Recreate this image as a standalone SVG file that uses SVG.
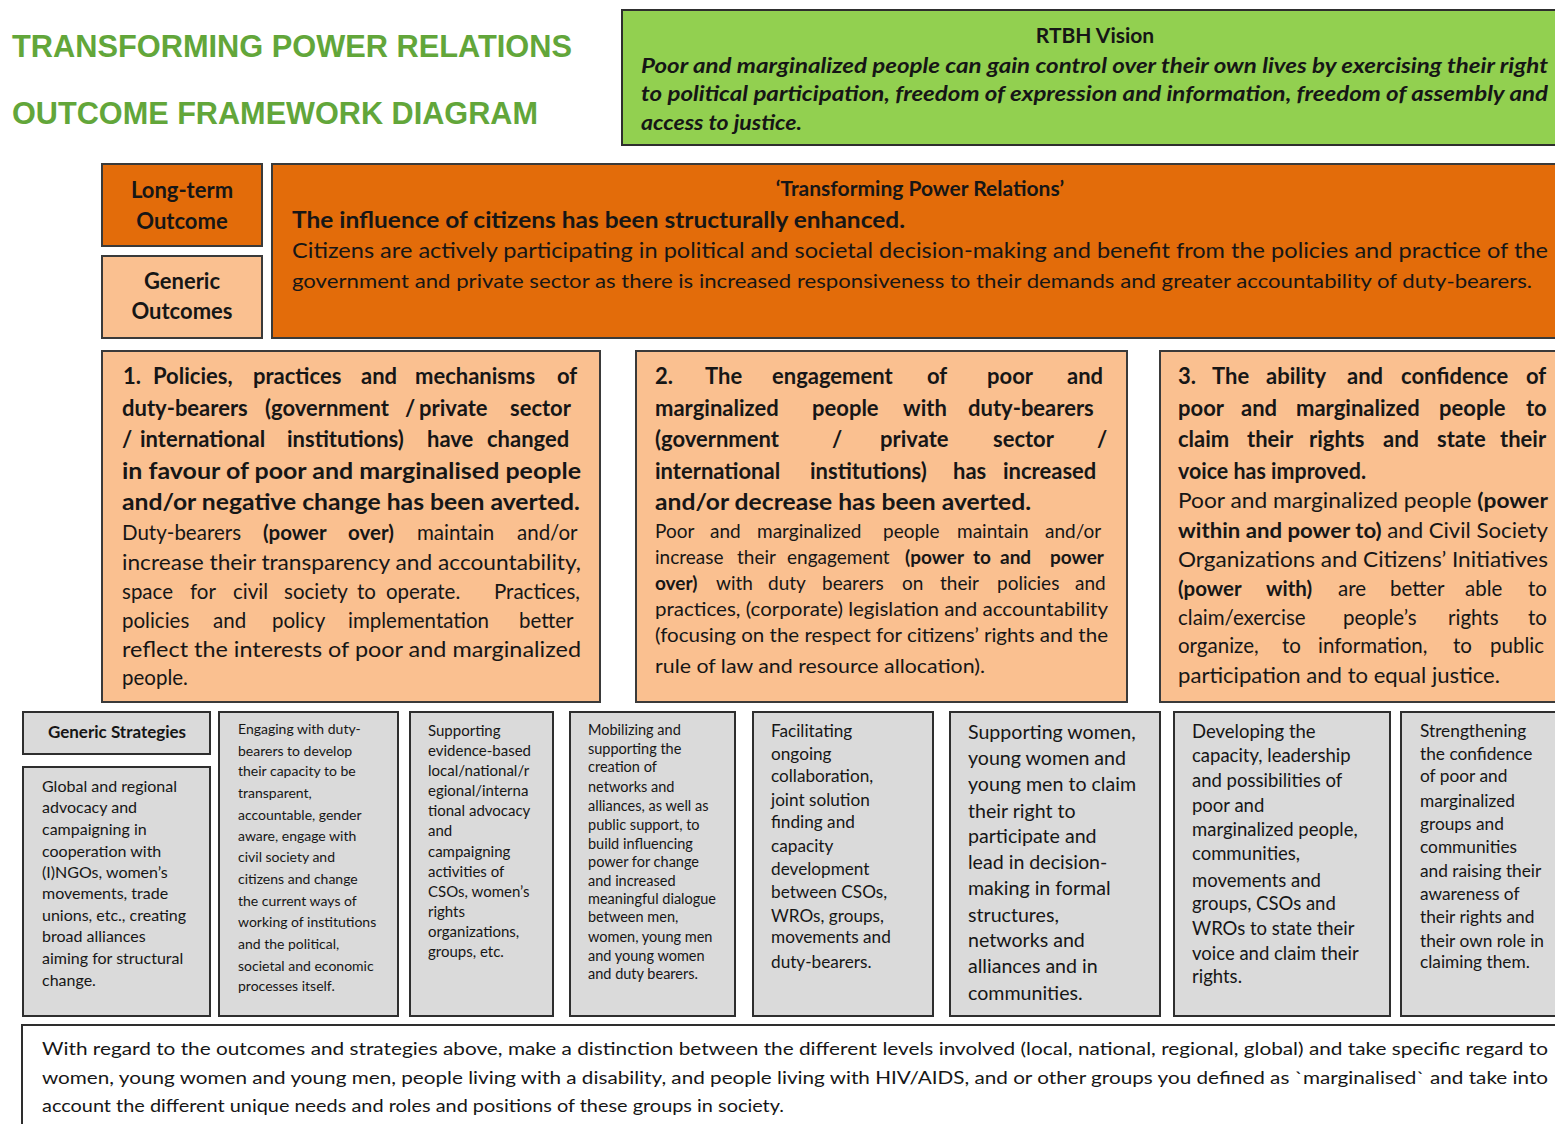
<svg xmlns="http://www.w3.org/2000/svg" width="1555" height="1124" viewBox="0 0 1555 1124">
  <style>
    .t { font-family: Lato, "Open Sans", "Liberation Sans", sans-serif; fill: #161616; }
    .b { font-weight: 700; }
    .i { font-style: italic; }
    .ttl { font-family: "Liberation Sans", Arial, sans-serif; font-weight: 700; font-size: 31px; fill: #62a63a; }
    .dark { fill: #e36c0a; stroke: #3a3a3a; stroke-width: 2; }
    .light { fill: #fac090; stroke: #3a3a3a; stroke-width: 2; }
    .green { fill: #92d050; stroke: #2e2e2e; stroke-width: 2; }
    .grey { fill: #dadada; stroke: #2e2e2e; stroke-width: 2; }
    .white { fill: #ffffff; stroke: #2e2e2e; stroke-width: 2; }
    .hb { font-size: 22px; font-weight: 700; }
    .n1 { font-size: 20.5px; }
    .n2 { font-size: 19px; }
  </style>

  <rect x="0" y="0" width="1555" height="1124" fill="#ffffff"/>

  <!-- heading -->
  <g id="title">
    <text class="ttl" x="12" y="57" textLength="560" lengthAdjust="spacingAndGlyphs">TRANSFORMING POWER RELATIONS</text>
    <text class="ttl" x="12" y="124" textLength="526" lengthAdjust="spacingAndGlyphs">OUTCOME FRAMEWORK DIAGRAM</text>
  </g>

  <!-- vision -->
  <g id="vision">
    <rect class="green" x="622" y="10" width="940" height="135"/>
    <text class="t b" x="1095" y="43" font-size="21" text-anchor="middle">RTBH Vision</text>
    <g class="t b i" font-size="20">
      <text x="641" y="73" textLength="907" lengthAdjust="spacingAndGlyphs">Poor and marginalized people can gain control over their own lives by exercising their right</text>
      <text x="641" y="101" textLength="907" lengthAdjust="spacingAndGlyphs">to political participation, freedom of expression and information, freedom of assembly and</text>
      <text x="641" y="130" textLength="161" lengthAdjust="spacingAndGlyphs">access to justice.</text>
    </g>
  </g>

  <!-- row labels -->
  <g id="label-longterm">
    <rect class="dark" x="102" y="164" width="160" height="82"/>
    <text class="t b" x="182" y="198" font-size="22" text-anchor="middle">Long-term</text>
    <text class="t b" x="182" y="229" font-size="22" text-anchor="middle">Outcome</text>
  </g>
  <g id="label-generic">
    <rect class="light" x="102" y="256" width="160" height="82"/>
    <text class="t b" x="182" y="289" font-size="22" text-anchor="middle">Generic</text>
    <text class="t b" x="182" y="319" font-size="22" text-anchor="middle">Outcomes</text>
  </g>

  <!-- long-term outcome -->
  <g id="longterm-outcome">
    <rect class="dark" x="272" y="164" width="1290" height="174"/>
    <text class="t b" x="920" y="196" font-size="21" text-anchor="middle">‘Transforming Power Relations’</text>
    <text class="t b" x="292" y="228" font-size="22" textLength="613" lengthAdjust="spacingAndGlyphs">The influence of citizens has been structurally enhanced.</text>
    <text class="t" x="292" y="258" font-size="20.5" textLength="1256" lengthAdjust="spacingAndGlyphs">Citizens are actively participating in political and societal decision-making and benefit from the policies and practice of the</text>
    <text class="t" x="292" y="288" font-size="20" textLength="1240" lengthAdjust="spacingAndGlyphs">government and private sector as there is increased responsiveness to their demands and greater accountability of duty-bearers.</text>
  </g>

  <!-- generic outcome 1 -->
  <g id="outcome-1">
    <rect class="light" x="102" y="351" width="498" height="351"/>
    <g class="t hb">
      <text y="384"><tspan x="123">1.</tspan><tspan x="153">Policies,</tspan><tspan x="253">practices</tspan><tspan x="361">and</tspan><tspan x="415">mechanisms</tspan><tspan x="557">of</tspan></text>
      <text y="416"><tspan x="122">duty-bearers</tspan><tspan x="265">(government</tspan><tspan x="405">/</tspan><tspan x="419">private</tspan><tspan x="510">sector</tspan></text>
      <text y="447"><tspan x="122">/</tspan><tspan x="140">international</tspan><tspan x="287">institutions)</tspan><tspan x="427">have</tspan><tspan x="487">changed</tspan></text>
      <text x="122" y="479" textLength="459" lengthAdjust="spacingAndGlyphs">in favour of poor and marginalised people</text>
      <text x="122" y="510" textLength="458" lengthAdjust="spacingAndGlyphs">and/or negative change has been averted.</text>
    </g>
    <g class="t n1">
      <text y="540"><tspan x="122">Duty-bearers</tspan><tspan x="263" font-weight="700">(power</tspan><tspan x="348" font-weight="700">over)</tspan><tspan x="417">maintain</tspan><tspan x="517">and/or</tspan></text>
      <text x="122" y="570" textLength="459" lengthAdjust="spacingAndGlyphs">increase their transparency and accountability,</text>
      <text y="599"><tspan x="122">space</tspan><tspan x="190">for</tspan><tspan x="233">civil</tspan><tspan x="284">society</tspan><tspan x="357">to</tspan><tspan x="386">operate.</tspan><tspan x="494">Practices,</tspan></text>
      <text y="628"><tspan x="122">policies</tspan><tspan x="213">and</tspan><tspan x="272">policy</tspan><tspan x="348">implementation</tspan><tspan x="519">better</tspan></text>
      <text x="122" y="657" textLength="459" lengthAdjust="spacingAndGlyphs">reflect the interests of poor and marginalized</text>
      <text x="122" y="685">people.</text>
    </g>
  </g>

  <!-- generic outcome 2 -->
  <g id="outcome-2">
    <rect class="light" x="636" y="351" width="491" height="351"/>
    <g class="t hb">
      <text y="384"><tspan x="655">2.</tspan><tspan x="705">The</tspan><tspan x="772">engagement</tspan><tspan x="927">of</tspan><tspan x="987">poor</tspan><tspan x="1067">and</tspan></text>
      <text y="416"><tspan x="655">marginalized</tspan><tspan x="812">people</tspan><tspan x="903">with</tspan><tspan x="968">duty-bearers</tspan></text>
      <text y="447"><tspan x="655">(government</tspan><tspan x="832">/</tspan><tspan x="880">private</tspan><tspan x="993">sector</tspan><tspan x="1097">/</tspan></text>
      <text y="479"><tspan x="655">international</tspan><tspan x="810">institutions)</tspan><tspan x="953">has</tspan><tspan x="1003">increased</tspan></text>
      <text x="655" y="510" textLength="376" lengthAdjust="spacingAndGlyphs">and/or decrease has been averted.</text>
    </g>
    <g class="t n2">
      <text y="538"><tspan x="655">Poor</tspan><tspan x="710">and</tspan><tspan x="757">marginalized</tspan><tspan x="883">people</tspan><tspan x="957">maintain</tspan><tspan x="1045">and/or</tspan></text>
      <text y="564"><tspan x="655">increase</tspan><tspan x="737">their</tspan><tspan x="787">engagement</tspan><tspan x="905" font-weight="700">(power</tspan><tspan x="973" font-weight="700">to</tspan><tspan x="1000" font-weight="700">and</tspan><tspan x="1050" font-weight="700">power</tspan></text>
      <text y="590"><tspan x="655" font-weight="700">over)</tspan><tspan x="716">with</tspan><tspan x="768">duty</tspan><tspan x="822">bearers</tspan><tspan x="902">on</tspan><tspan x="940">their</tspan><tspan x="997">policies</tspan><tspan x="1075">and</tspan></text>
      <text x="655" y="616" textLength="453" lengthAdjust="spacingAndGlyphs">practices, (corporate) legislation and accountability</text>
      <text x="655" y="642" textLength="453" lengthAdjust="spacingAndGlyphs">(focusing on the respect for citizens’ rights and the</text>
      <text x="655" y="673" textLength="330" lengthAdjust="spacingAndGlyphs">rule of law and resource allocation).</text>
    </g>
  </g>

  <!-- generic outcome 3 -->
  <g id="outcome-3">
    <rect class="light" x="1160" y="351" width="402" height="351"/>
    <g class="t hb">
      <text y="384"><tspan x="1178">3.</tspan><tspan x="1212">The</tspan><tspan x="1266">ability</tspan><tspan x="1347">and</tspan><tspan x="1401">confidence</tspan><tspan x="1526">of</tspan></text>
      <text y="416"><tspan x="1178">poor</tspan><tspan x="1241">and</tspan><tspan x="1296">marginalized</tspan><tspan x="1439">people</tspan><tspan x="1526">to</tspan></text>
      <text y="447"><tspan x="1178">claim</tspan><tspan x="1247">their</tspan><tspan x="1309">rights</tspan><tspan x="1383">and</tspan><tspan x="1437">state</tspan><tspan x="1500">their</tspan></text>
      <text x="1178" y="479" textLength="188" lengthAdjust="spacingAndGlyphs">voice has improved.</text>
    </g>
    <g class="t n1">
      <text x="1178" y="508" textLength="370" lengthAdjust="spacingAndGlyphs">Poor and marginalized people <tspan font-weight="700">(power</tspan></text>
      <text x="1178" y="538" textLength="370" lengthAdjust="spacingAndGlyphs"><tspan font-weight="700">within and power to)</tspan> and Civil Society</text>
      <text x="1178" y="567" textLength="370" lengthAdjust="spacingAndGlyphs">Organizations and Citizens’ Initiatives</text>
      <text y="596"><tspan x="1178" font-weight="700">(power</tspan><tspan x="1266" font-weight="700">with)</tspan><tspan x="1338">are</tspan><tspan x="1390">better</tspan><tspan x="1465">able</tspan><tspan x="1528">to</tspan></text>
      <text y="625"><tspan x="1178">claim/exercise</tspan><tspan x="1343">people’s</tspan><tspan x="1448">rights</tspan><tspan x="1528">to</tspan></text>
      <text y="653"><tspan x="1178">organize,</tspan><tspan x="1282">to</tspan><tspan x="1318">information,</tspan><tspan x="1453">to</tspan><tspan x="1490">public</tspan></text>
      <text x="1178" y="683" textLength="322" lengthAdjust="spacingAndGlyphs">participation and to equal justice.</text>
    </g>
  </g>

  <!-- generic strategies -->
  <g id="strategies-label">
    <rect class="grey" x="23" y="712" width="187" height="42"/>
    <text class="t b" x="117" y="738" font-size="17" text-anchor="middle">Generic Strategies</text>
  </g>

  <g id="strategy-1">
    <rect class="grey" x="23" y="767" width="187" height="249"/>
    <g class="t" font-size="16">
      <text x="42" y="792">Global and regional</text>
      <text x="42" y="813">advocacy and</text>
      <text x="42" y="835">campaigning in</text>
      <text x="42" y="857">cooperation with</text>
      <text x="42" y="878">(I)NGOs, women’s</text>
      <text x="42" y="899">movements, trade</text>
      <text x="42" y="921">unions, etc., creating</text>
      <text x="42" y="942">broad alliances</text>
      <text x="42" y="964">aiming for structural</text>
      <text x="42" y="986">change.</text>
    </g>
  </g>

  <g id="strategy-2">
    <rect class="grey" x="219" y="712" width="179" height="304"/>
    <g class="t" font-size="14">
      <text x="238" y="734">Engaging with duty-</text>
      <text x="238" y="756">bearers to develop</text>
      <text x="238" y="776">their capacity to be</text>
      <text x="238" y="798">transparent,</text>
      <text x="238" y="820">accountable, gender</text>
      <text x="238" y="841">aware, engage with</text>
      <text x="238" y="862">civil society and</text>
      <text x="238" y="884">citizens and change</text>
      <text x="238" y="906">the current ways of</text>
      <text x="238" y="927">working of institutions</text>
      <text x="238" y="949">and  the political,</text>
      <text x="238" y="971">societal and economic</text>
      <text x="238" y="991">processes itself.</text>
    </g>
  </g>

  <g id="strategy-3">
    <rect class="grey" x="410" y="712" width="143" height="304"/>
    <g class="t" font-size="15">
      <text x="428" y="736">Supporting</text>
      <text x="428" y="756">evidence-based</text>
      <text x="428" y="776">local/national/r</text>
      <text x="428" y="796">egional/interna</text>
      <text x="428" y="816">tional advocacy</text>
      <text x="428" y="836">and</text>
      <text x="428" y="857">campaigning</text>
      <text x="428" y="877">activities of</text>
      <text x="428" y="897">CSOs, women’s</text>
      <text x="428" y="917">rights</text>
      <text x="428" y="937">organizations,</text>
      <text x="428" y="957">groups, etc.</text>
    </g>
  </g>

  <g id="strategy-4">
    <rect class="grey" x="570" y="712" width="165" height="304"/>
    <g class="t" font-size="14.5">
      <text x="588" y="735">Mobilizing and</text>
      <text x="588" y="754">supporting the</text>
      <text x="588" y="772">creation of</text>
      <text x="588" y="792">networks and</text>
      <text x="588" y="811">alliances, as well as</text>
      <text x="588" y="830">public support, to</text>
      <text x="588" y="849">build influencing</text>
      <text x="588" y="867">power for change</text>
      <text x="588" y="886">and  increased</text>
      <text x="588" y="904">meaningful dialogue</text>
      <text x="588" y="922">between men,</text>
      <text x="588" y="942">women, young men</text>
      <text x="588" y="961">and young women</text>
      <text x="588" y="979">and duty bearers.</text>
    </g>
  </g>

  <g id="strategy-5">
    <rect class="grey" x="753" y="712" width="180" height="304"/>
    <g class="t" font-size="17.2">
      <text x="771" y="737">Facilitating</text>
      <text x="771" y="760">ongoing</text>
      <text x="771" y="782">collaboration,</text>
      <text x="771" y="806">joint solution</text>
      <text x="771" y="828">finding and</text>
      <text x="771" y="852">capacity</text>
      <text x="771" y="875">development</text>
      <text x="771" y="898">between CSOs,</text>
      <text x="771" y="922">WROs, groups,</text>
      <text x="771" y="943">movements and</text>
      <text x="771" y="968">duty-bearers.</text>
    </g>
  </g>

  <g id="strategy-6">
    <rect class="grey" x="950" y="712" width="210" height="304"/>
    <g class="t" font-size="19.6">
      <text x="968" y="739">Supporting women,</text>
      <text x="968" y="765">young women and</text>
      <text x="968" y="791">young men to claim</text>
      <text x="968" y="818">their right to</text>
      <text x="968" y="843">participate and</text>
      <text x="968" y="869">lead in decision-</text>
      <text x="968" y="895">making in formal</text>
      <text x="968" y="922">structures,</text>
      <text x="968" y="947">networks and</text>
      <text x="968" y="973">alliances and in</text>
      <text x="968" y="1000">communities.</text>
    </g>
  </g>

  <g id="strategy-7">
    <rect class="grey" x="1174" y="712" width="216" height="304"/>
    <g class="t" font-size="18.5">
      <text x="1192" y="738">Developing the</text>
      <text x="1192" y="762">capacity, leadership</text>
      <text x="1192" y="787">and possibilities of</text>
      <text x="1192" y="812">poor and</text>
      <text x="1192" y="836">marginalized people,</text>
      <text x="1192" y="860">communities,</text>
      <text x="1192" y="887">movements and</text>
      <text x="1192" y="910">groups, CSOs and</text>
      <text x="1192" y="935">WROs to state their</text>
      <text x="1192" y="960">voice and claim their</text>
      <text x="1192" y="983">rights.</text>
    </g>
  </g>

  <g id="strategy-8">
    <rect class="grey" x="1401" y="712" width="160" height="304"/>
    <g class="t" font-size="17.3">
      <text x="1420" y="737">Strengthening</text>
      <text x="1420" y="760">the confidence</text>
      <text x="1420" y="782">of poor and</text>
      <text x="1420" y="807">marginalized</text>
      <text x="1420" y="830">groups and</text>
      <text x="1420" y="853">communities</text>
      <text x="1420" y="877">and raising their</text>
      <text x="1420" y="900">awareness of</text>
      <text x="1420" y="923">their rights and</text>
      <text x="1420" y="947">their own role in</text>
      <text x="1420" y="968">claiming them.</text>
    </g>
  </g>

  <!-- note on levels and target groups -->
  <g id="note">
    <rect class="white" x="22" y="1025" width="1545" height="110"/>
    <g class="t" font-size="18">
      <text x="42" y="1055" textLength="1506" lengthAdjust="spacingAndGlyphs">With regard to the outcomes and strategies above, make a distinction between the different levels involved (local, national, regional, global) and take specific regard to</text>
      <text x="42" y="1084" textLength="1506" lengthAdjust="spacingAndGlyphs">women, young women and young men, people living with a disability, and people living with HIV/AIDS, and or other groups you defined as `marginalised` and take into</text>
      <text x="42" y="1112" textLength="742" lengthAdjust="spacingAndGlyphs">account the different unique needs and roles and positions of these groups in society.</text>
    </g>
  </g>

  <g id="connectors"/>
</svg>
